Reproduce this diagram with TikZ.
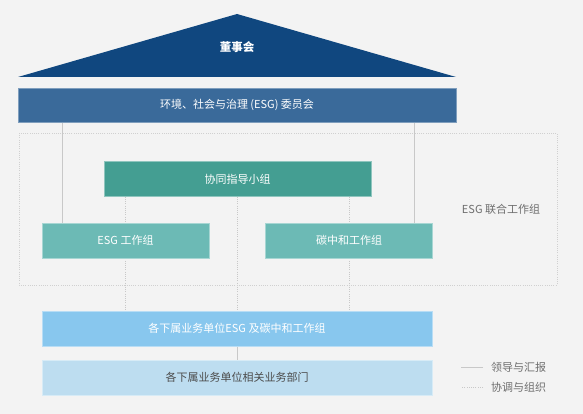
\documentclass[tikz,border=0pt]{standalone}
\usepackage{fontspec}
\setmainfont{Noto Sans CJK SC}
\usetikzlibrary{backgrounds}
\definecolor{bgc}{HTML}{F3F3F3}
\definecolor{boardblue}{HTML}{10477F}
\definecolor{cmtblue}{HTML}{3A6A9A}
\definecolor{guidegreen}{HTML}{449E92}
\definecolor{wggreen}{HTML}{6CBAB5}
\definecolor{unitblue}{HTML}{88C7EE}
\definecolor{deptblue}{HTML}{BDDDF0}
\definecolor{linegray}{HTML}{C8C8C8}
\definecolor{txtgray}{HTML}{6E6E6E}
\tikzset{
  box/.style={minimum height=35pt, inner sep=0pt, text=white, font=\fontsize{11}{13}\selectfont},
  lead/.style={draw=linegray, line width=0.8pt},
  coord/.style={draw=linegray, line width=0.6pt, dash pattern=on 1pt off 1.2pt},
  legtext/.style={text=txtgray, font=\fontsize{11}{13}\selectfont, anchor=west, inner sep=0pt}
}
\begin{document}
\begin{tikzpicture}[x=1pt,y=-1pt]
    % 董事会
    \fill[boardblue] (18,77) -- (237,14) -- (456,77) -- cycle;
    \node[text=white, font=\fontsize{11.5}{13}\selectfont\bfseries] (board) at (237,47) {董事会};
    % 委员会
    \node[box, fill=cmtblue, draw=cmtblue!65!white, minimum width=438pt, minimum height=34pt] (cmt) at (237,105) {环境、社会与治理 (ESG) 委员会};
    % 联合工作组
    \draw[coord, draw=linegray!85!white] (19,133) rectangle (557,285);
    \node[text=txtgray, font=\fontsize{11}{13}\selectfont] (joint) at (501,209) {ESG 联合工作组};
    \node[box, fill=guidegreen, draw=guidegreen!60!white, minimum width=267pt] (guide) at (237.5,179) {协同指导小组};
    \node[box, fill=wggreen, draw=wggreen!60!white, minimum width=167pt] (esgwg) at (125.5,240.5) {ESG 工作组};
    \node[box, fill=wggreen, draw=wggreen!60!white, minimum width=167pt] (carbonwg) at (349,240.5) {碳中和工作组};
    % 下属单位
    \node[box, fill=unitblue, draw=unitblue!60!white, minimum width=390pt] (unitwg) at (237,328.5) {各下属业务单位ESG 及碳中和工作组};
    \node[box, fill=deptblue, draw=deptblue!60!white, minimum width=390pt, text=black!70] (unitdept) at (237,377.5) {各下属业务单位相关业务部门};
    % 图例
    \node[legtext] (legA) at (491,367) {领导与汇报};
    \node[legtext] (legB) at (491,387) {协调与组织};
    \coordinate (lx) at (62,0);
    \coordinate (rx) at (414,0);
    \begin{pgfonlayer}{background}
        \fill[bgc] (0,0) rectangle (583,414);
        \draw[lead] (cmt.south -| lx) -- (esgwg.north -| lx);
        \draw[lead] (cmt.south -| rx) -- (carbonwg.north -| rx);
        \foreach \n in {esgwg, guide, carbonwg}
            \draw[coord] (guide.south -| \n) -- (unitwg.north -| \n);
        \draw[lead] (unitwg.south) -- (unitdept.north);
        \draw[lead] ([xshift=-8pt]legA.west) -- ++(-22,0);
        \draw[coord] ([xshift=-8pt]legB.west) -- ++(-22,0);
    \end{pgfonlayer}
\end{tikzpicture}
\end{document}
